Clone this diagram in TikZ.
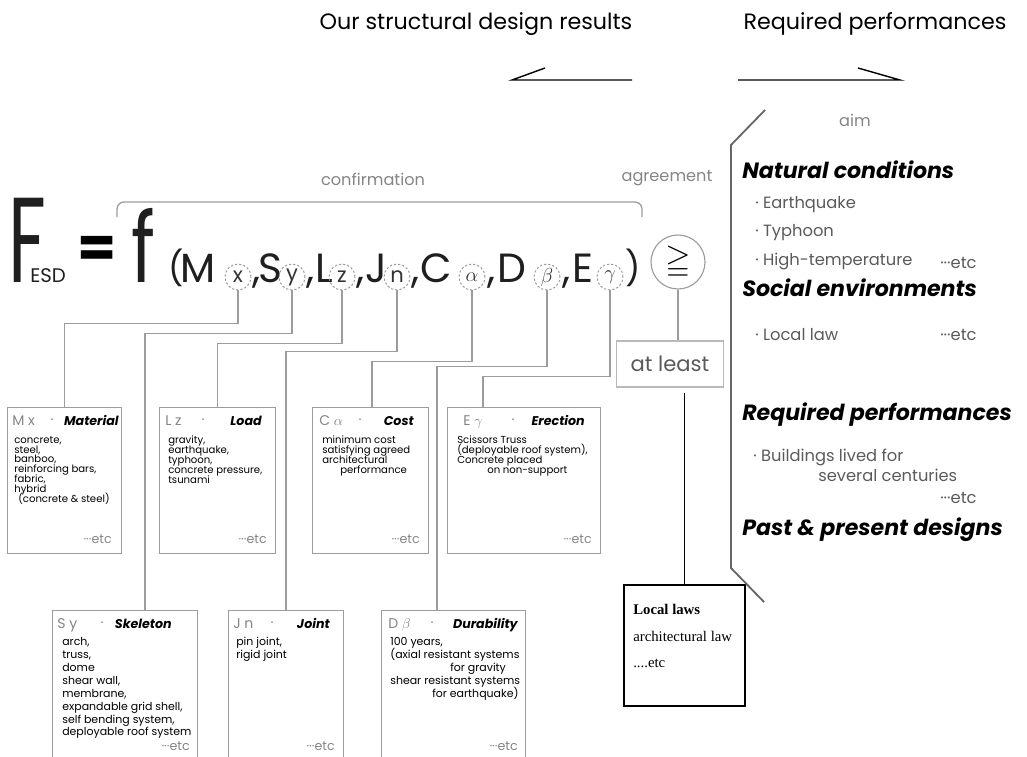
\documentclass[tikz,border=0pt]{standalone}
\usepackage{fontspec}
\usepackage{amssymb}
\setmainfont{Poppins}
\newfontfamily\lawfont{Liberation Serif}
\usetikzlibrary{positioning}

\definecolor{wire}{HTML}{9C9C9C}
\definecolor{softtext}{HTML}{5A5A5A}
\definecolor{paletext}{HTML}{858585}

\begin{document}
\begin{tikzpicture}[x=0.025cm, y=-0.025cm,
    every node/.style={inner sep=0pt},
    link/.style={draw=wire, line width=0.9pt},
    glyph/.style={anchor=base west, text=black!88},
    letter/.style={glyph, font=\fontsize{29}{29}\selectfont},
    bracketglyph/.style={glyph, font=\fontsize{24}{24}\selectfont},
    subring/.style={circle, draw=wire, dash pattern=on 1.6pt off 1.4pt, line width=0.7pt, minimum size=0.65cm, font=\fontsize{15}{15}\selectfont, text=black!80},
    itembox/.style={draw=wire, line width=0.8pt, anchor=north west},
    boxkey/.style={anchor=mid west, text=paletext, font=\fontsize{10}{10}\selectfont},
    boxdot/.style={text=paletext, font=\fontsize{10}{10}\selectfont},
    boxname/.style={anchor=mid east, font=\bfseries\itshape\fontsize{9}{10}\selectfont},
    toplist/.style={anchor=north west, align=left, font={\fontsize{7.2}{7}\selectfont\lineskiplimit=-4pt}},
    lowlist/.style={anchor=north west, align=left, font={\fontsize{7.8}{9.2}\selectfont\lineskiplimit=-4pt}},
    etcnote/.style={anchor=mid east, text=paletext, font=\fontsize{9}{9}\selectfont},
    heading/.style={anchor=mid west, font=\bfseries\itshape\fontsize{15.7}{18}\selectfont},
    bullet/.style={anchor=mid west, text=softtext, font=\fontsize{11.6}{13}\selectfont},
    remark/.style={text=paletext, font=\fontsize{11.5}{13}\selectfont}]

    \useasboundingbox (0,0) rectangle (1027,757);
    \clip (0,0) rectangle (1027,757);

    % Titles and chevrons
    \node[font=\fontsize{15.8}{18}\selectfont] (ourresults) at (476,24) {Our structural design results};
    \node[font=\fontsize{15.8}{18}\selectfont] (requiredtop) at (875,24) {Required performances};
    \draw[line width=1pt] (545,68) -- (512,80) -- (632,80);
    \draw[line width=1pt] (738,80) -- (900,80) -- (858,68);

    % Formula F_ESD = f(...)
    \node[glyph, font=\fontsize{86}{86}\selectfont] (bigF) at (8,282) {\scalebox{0.62}[1]{F}};
    \node[glyph, font=\fontsize{14}{14}\selectfont] (esd) at (30,282) {ESD};
    \node[font=\bfseries\fontsize{40}{40}\selectfont] (eqsign) at (97,252) {=};
    \node[glyph, font=\fontsize{69}{69}\selectfont] (smallf) at (131,282) {\scalebox{0.75}[1]{f}};
    \node[bracketglyph] (lpar) at (168,280) {(};
    \node[letter] (letM) at (180,282) {M};
    \node[subring] (subx) at (238,277) {x};
    \node[letter] (comma1) at (252,282) {,};
    \node[letter] (letS) at (258,282) {S};
    \node[subring] (suby) at (292,277) {y};
    \node[letter] (comma2) at (306,282) {,};
    \node[letter] (letL) at (315,282) {L};
    \node[subring] (subz) at (342,277) {z};
    \node[letter] (comma3) at (356,282) {,};
    \node[letter] (letJ) at (365,282) {J};
    \node[subring] (subn) at (397,277) {n};
    \node[letter] (comma4) at (411,282) {,};
    \node[letter] (letC) at (420,282) {C};
    \node[subring] (subalpha) at (472,277) {$\alpha$};
    \node[letter] (comma5) at (487,282) {,};
    \node[letter] (letD) at (497,282) {D};
    \node[subring] (subbeta) at (547,277) {$\beta$};
    \node[letter] (comma6) at (562,282) {,};
    \node[letter] (letE) at (572,282) {E};
    \node[subring] (subgamma) at (610,277) {$\gamma$};
    \node[bracketglyph] (rpar) at (625,280) {)};
    \node[circle, draw=wire, line width=0.8pt, minimum size=1.35cm, font=\fontsize{23}{23}\selectfont] (geqring) at (678,262) {$\geqq$};

    % confirmation / agreement
    \draw[link, rounded corners=5pt] (117,217) -- (117,202) -- (642,202) -- (642,217);
    \node[remark] (confirm) at (373,179) {confirmation};
    \node[remark] (agree) at (667,178) {agreement};
    \node[remark] (aim) at (855,120) {aim};

    % at least and local laws
    \node[draw=wire!70, line width=0.8pt, minimum width=2.675cm, minimum height=1.15cm, text=softtext, font=\fontsize{15}{16}\selectfont] (atleast) at (670,364) {at least};
    \node[draw=black, line width=1.3pt, minimum size=3.025cm, anchor=north west] (lawbox) at (623,584) {};
    \node[anchor=north west, align=left, font=\lawfont\fontsize{10.5}{19}\selectfont] (lawtext) at (633,604) {\textbf{Local laws}\\architectural law\\....etc};

    % Top row boxes
    \node[itembox, minimum width=2.85cm, minimum height=3.65cm] (material) at (7,407) {};
    \node[boxkey] (materialkey) at (12,422) {M x};
    \node[boxdot] (materialdot) at (52,422) {·};
    \node[boxname] (materialname) at (119,422) {Material};
    \node[toplist] (materialbody) at (14,436) {concrete,\\steel,\\banboo,\\reinforcing bars,\\fabric,\\hybrid\\\hspace*{0.1cm}(concrete \& steel)};
    \node[etcnote] (materialetc) at (112,540) {···etc};

    \node[itembox, minimum width=2.9cm, minimum height=3.65cm] (load) at (159,407) {};
    \node[boxkey] (loadkey) at (165,422) {L z};
    \node[boxdot] (loaddot) at (203,422) {·};
    \node[boxname] (loadname) at (262,422) {Load};
    \node[toplist] (loadbody) at (168,436) {gravity,\\earthquake,\\typhoon,\\concrete pressure,\\tsunami};
    \node[etcnote] (loadetc) at (267,540) {···etc};

    \node[itembox, minimum width=2.9cm, minimum height=3.65cm] (cost) at (312,407) {};
    \node[boxkey] (costkey) at (319,422) {C $\alpha$};
    \node[boxdot] (costdot) at (360,422) {·};
    \node[boxname] (costname) at (414,422) {Cost};
    \node[toplist] (costbody) at (322,436) {minimum cost\\satisfying agreed\\architectural\\\hspace*{0.45cm}performance};
    \node[etcnote] (costetc) at (420,540) {···etc};

    \node[itembox, minimum width=3.825cm, minimum height=3.65cm] (erection) at (447,407) {};
    \node[boxkey] (erectionkey) at (463,422) {E $\gamma$};
    \node[boxdot] (erectiondot) at (513,422) {·};
    \node[boxname] (erectionname) at (585,422) {Erection};
    \node[toplist] (erectionbody) at (457,436) {Scissors Truss\\(deployable roof system),\\Concrete placed\\\hspace*{0.75cm}on non-support};
    \node[etcnote] (erectionetc) at (592,540) {···etc};

    % Bottom row boxes
    \node[itembox, minimum width=3.625cm, minimum height=5cm] (skeleton) at (52,610) {};
    \node[boxkey] (skeletonkey) at (57,625) {S y};
    \node[boxdot] (skeletondot) at (102,625) {·};
    \node[boxname] (skeletonname) at (172,625) {Skeleton};
    \node[lowlist] (skeletonbody) at (62,637) {arch,\\truss,\\dome\\shear wall,\\membrane,\\expandable grid shell,\\self bending system,\\deployable roof system};
    \node[etcnote] (skeletonetc) at (190,747) {···etc};

    \node[itembox, minimum width=2.875cm, minimum height=5cm] (joint) at (228,610) {};
    \node[boxkey] (jointkey) at (233,625) {J n};
    \node[boxdot] (jointdot) at (272,625) {·};
    \node[boxname] (jointname) at (330,625) {Joint};
    \node[lowlist] (jointbody) at (236,637) {pin joint,\\rigid joint};
    \node[etcnote] (jointetc) at (335,747) {···etc};

    \node[itembox, minimum width=3.6cm, minimum height=5cm] (durability) at (381,610) {};
    \node[boxkey] (durabilitykey) at (388,625) {D $\beta$};
    \node[boxdot] (durabilitydot) at (432,625) {·};
    \node[boxname] (durabilityname) at (518,625) {Durability};
    \node[lowlist] (durabilitybody) at (390,637) {100 years,\\(axial resistant systems\\\hspace*{1.5cm}for gravity\\shear resistant systems\\\hspace*{1.05cm}for earthquake)};
    \node[etcnote] (durabilityetc) at (518,747) {···etc};

    % Connectors from the subscripts
    \draw[link] (subx.south) -- ++(0,33) -| (material.north);
    \draw[link] (suby.south) -- ++(0,43) -| (skeleton.north -| 145,0);
    \draw[link] (subz.south) -- ++(0,53) -| (load.north);
    \draw[link] (subn.south) -- ++(0,61) -| (joint.north);
    \draw[link] (subalpha.south) -- ++(0,71) -| (cost.north -| 372,0);
    \draw[link] (subbeta.south) -- ++(0,76) -| (durability.north -| 437,0);
    \draw[link] (subgamma.south) -- ++(0,86) -| (erection.north -| 483,0);
    \draw[link] (geqring.south) -- (geqring.south |- atleast.north);
    \draw[line width=1pt, shorten <=4pt] (atleast.south -| lawbox.north) -- (lawbox.north);

    % Right-hand list
    \draw[line width=1.3pt, draw=black!60] (765,110) -- (731,145) -- (731,568) -- (764,602);
    \node[heading] (natural) at (742,175) {Natural conditions};
    \node[bullet] (quake) at (755,205) {· Earthquake};
    \node[bullet] (typhoon) at (755,233) {· Typhoon};
    \node[bullet] (heat) at (755,262) {· High-temperature};
    \node[bullet] (heatetc) at (940,265) {···etc};
    \node[heading] (social) at (742,293) {Social environments};
    \node[bullet] (law) at (755,337) {· Local law};
    \node[bullet] (lawetc) at (940,337) {···etc};
    \node[heading] (required) at (742,417) {Required performances};
    \node[bullet] (lived) at (753,458) {· Buildings lived for};
    \node[bullet] (centuries) at (818,478) {several centuries};
    \node[bullet] (livedetc) at (940,500) {···etc};
    \node[heading] (past) at (742,532) {Past \& present designs};
\end{tikzpicture}
\end{document}
